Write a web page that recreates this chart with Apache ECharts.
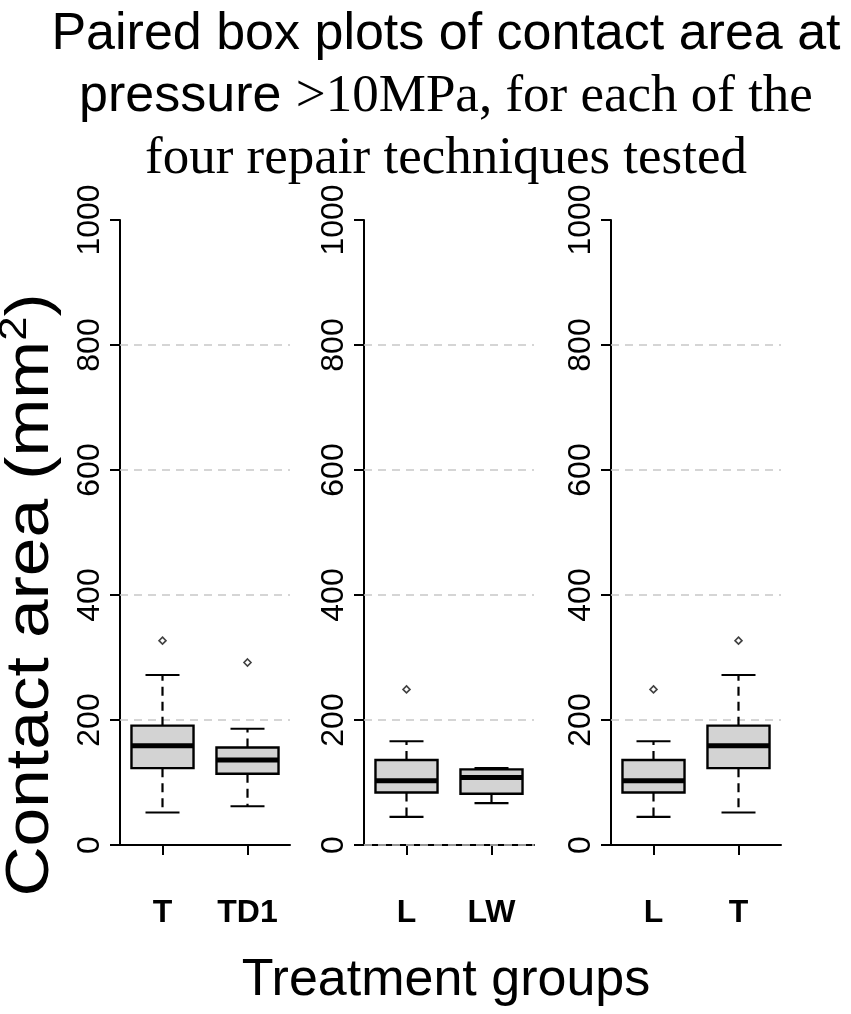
<!DOCTYPE html>
<html>
<head>
<meta charset="utf-8">
<title>Contact area box plots</title>
<script src="https://cdn.jsdelivr.net/npm/echarts@6/dist/echarts.min.js"></script>
<style>
  html, body { margin: 0; padding: 0; background: #fff; }
  #chart { width: 851px; height: 1014px; }
</style>
</head>
<body>
<div id="chart"></div>
<script>
// -----------------------------------------
// DATA
// stats order: lower whisker, Q1, median, Q3, upper whisker
// -----------------------------------------
const yTicks = [0, 200, 400, 600, 800, 1000];

const statsT = [52, 123, 159, 191, 272];
const statsTD1 = [62, 114, 136, 156, 186];
const statsL = [45, 84, 103, 136, 166];
const statsLW = [67, 82, 108, 121, 123];

const outliersT = [327];
const outliersTD1 = [292];
const outliersL = [249];
const outliersLW = [];

const panelCats = [['T', 'TD1'], ['L', 'LW'], ['L', 'T']];
const panelStats = [[statsT, statsTD1], [statsL, statsLW], [statsL, statsT]];
const panelOutliers = [[outliersT, outliersTD1], [outliersL, outliersLW], [outliersL, outliersT]];
const panelGridLines = [[200, 400, 600, 800], [0, 200, 400, 600, 800], [200, 400, 600, 800]];

// -----------------------------------------
// LAYOUT
// -----------------------------------------
const SANS = '"Liberation Sans", Arial, sans-serif';
const SERIF = '"Liberation Serif", "Times New Roman", serif';
const gridLefts = [120, 364, 611];
const GRID_W = 170;
const GRID_TOP = 220;
const GRID_H = 625;

// box + dashed whiskers + short caps, drawn per category
function renderBox(params, api) {
  const idx = api.value(0);
  const lo = api.coord([idx, api.value(1)]);
  const q1 = api.coord([idx, api.value(2)]);
  const med = api.coord([idx, api.value(3)]);
  const q3 = api.coord([idx, api.value(4)]);
  const hi = api.coord([idx, api.value(5)]);
  const band = api.size([1, 0])[0];
  const bw = band * 0.73;
  const cw = band * 0.4;
  const cx = lo[0];
  const solid = { stroke: '#000', lineWidth: 2.2 };
  const dashed = { stroke: '#000', lineWidth: 2.2, lineDash: [9, 6] };

  return {
    type: 'group',
    children: [
      { type: 'line', shape: { x1: cx, y1: q3[1], x2: cx, y2: hi[1] }, style: dashed },
      { type: 'line', shape: { x1: cx, y1: q1[1], x2: cx, y2: lo[1] }, style: dashed },
      { type: 'line', shape: { x1: cx - cw / 2, y1: hi[1], x2: cx + cw / 2, y2: hi[1] }, style: solid },
      { type: 'line', shape: { x1: cx - cw / 2, y1: lo[1], x2: cx + cw / 2, y2: lo[1] }, style: solid },
      {
        type: 'rect',
        shape: { x: cx - bw / 2, y: q3[1], width: bw, height: q1[1] - q3[1] },
        style: { fill: '#d3d3d3', stroke: '#000', lineWidth: 2.4 }
      },
      { type: 'line', shape: { x1: cx - bw / 2, y1: med[1], x2: cx + bw / 2, y2: med[1] }, style: { stroke: '#000', lineWidth: 5 } }
    ]
  };
}

const grids = [];
const xAxes = [];
const yAxes = [];
const series = [];

panelCats.forEach((cats, i) => {
  grids.push({ left: gridLefts[i], top: GRID_TOP, width: GRID_W, height: GRID_H });

  xAxes.push({
    type: 'category',
    gridIndex: i,
    data: cats,
    position: 'bottom',
    offset: 23,
    axisLine: { show: true, lineStyle: { color: '#000', width: 2 } },
    axisTick: { show: true, alignWithLabel: true, length: 10, lineStyle: { color: '#000', width: 2 } },
    axisLabel: { fontFamily: SANS, fontSize: 32, fontWeight: 'bold', color: '#000', margin: 29 },
    splitLine: { show: false }
  });

  yAxes.push({
    type: 'value',
    gridIndex: i,
    min: yTicks[0],
    max: yTicks[yTicks.length - 1],
    interval: yTicks[1] - yTicks[0],
    axisLine: { show: true, lineStyle: { color: '#000', width: 2 } },
    axisTick: { show: true, length: 10, lineStyle: { color: '#000', width: 2 } },
    axisLabel: {
      rotate: 90,
      fontFamily: SANS,
      fontSize: 32,
      color: '#000',
      margin: 14,
      formatter: v => String(v)
    },
    splitLine: { show: false }
  });

  series.push({
    type: 'custom',
    xAxisIndex: i,
    yAxisIndex: i,
    renderItem: renderBox,
    encode: { x: 0, y: [1, 2, 3, 4, 5] },
    data: panelStats[i].map((s, k) => [k].concat(s)),
    silent: true,
    z: 3
  });

  const outPts = [];
  panelOutliers[i].forEach((list, k) => list.forEach(v => outPts.push([k, v])));

  series.push({
    type: 'scatter',
    xAxisIndex: i,
    yAxisIndex: i,
    data: outPts,
    symbol: 'diamond',
    symbolSize: 7,
    itemStyle: { color: '#fff', borderColor: '#111', borderWidth: 1.6 },
    silent: true,
    z: 4,
    markLine: {
      silent: true,
      symbol: 'none',
      label: { show: false },
      lineStyle: { color: '#c8c8c8', type: [8, 6], width: 1.5 },
      data: panelGridLines[i].map(v => ({ yAxis: v })),
      z: 1
    }
  });
});

const option = {
  backgroundColor: '#fff',
  animation: false,
  grid: grids,
  xAxis: xAxes,
  yAxis: yAxes,
  series: series,
  graphic: [
    {
      type: 'text',
      x: 446,
      y: 4,
      style: {
        text: '{s|Paired box plots of contact area at}\n{s|pressure }{t|>10MPa, for each of the}\n{t|four repair techniques tested}',
        align: 'center',
        verticalAlign: 'top',
        fill: '#000',
        rich: {
          s: { fontFamily: SANS, fontSize: 52, lineHeight: 62, fill: '#000' },
          t: { fontFamily: SERIF, fontSize: 53, lineHeight: 62, fill: '#000' }
        }
      }
    },
    {
      type: 'text',
      x: 446,
      y: 981,
      style: {
        text: 'Treatment groups',
        fontFamily: SANS,
        fontSize: 52,
        fill: '#000',
        align: 'center',
        verticalAlign: 'middle'
      }
    },
    {
      type: 'text',
      x: 31,
      y: 595,
      rotation: Math.PI / 2,
      scaleX: 1.12,
      style: {
        text: '{n|Contact area (mm}{sup|2}{n|)}',
        align: 'center',
        verticalAlign: 'middle',
        rich: {
          n: { fontFamily: SANS, fontSize: 62, lineHeight: 70, fill: '#000' },
          sup: { fontFamily: SANS, fontSize: 39, lineHeight: 40, verticalAlign: 'top', fill: '#000' }
        }
      }
    }
  ]
};

const chart = echarts.init(document.getElementById('chart'));
chart.setOption(option);
</script>
</body>
</html>
